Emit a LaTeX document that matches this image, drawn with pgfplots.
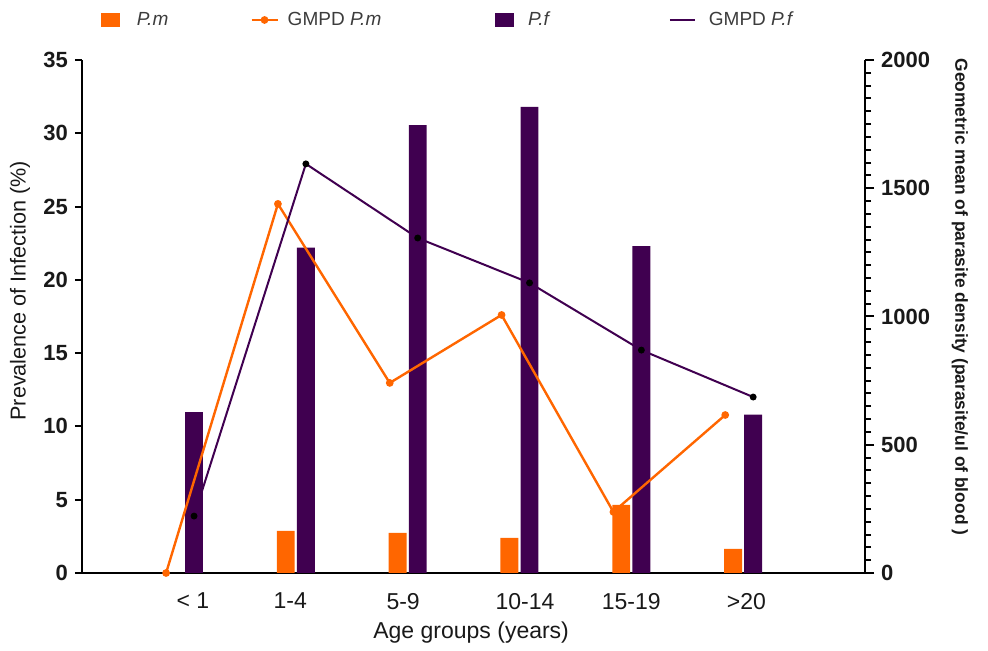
\documentclass[border=0pt]{standalone}
\usepackage{fontspec}
\setmainfont{Liberation Sans}
\usepackage{pgfplots}
\pgfplotsset{compat=1.18}
\definecolor{pmorange}{RGB}{255,102,0}
\definecolor{pfpurple}{RGB}{64,0,80}
\definecolor{txtdark}{RGB}{25,25,25}
\definecolor{leggray}{RGB}{60,60,60}
\begin{document}
\begin{tikzpicture}
\useasboundingbox (-41pt,-39pt) rectangle (453pt,286.5pt);
\begin{axis}[
  scale only axis, width=391.5pt, height=256.5pt,
  at={(0pt,0pt)}, anchor=south west,
  xmin=-0.912, xmax=6.09, ymin=0, ymax=35,
  axis x line*=bottom, axis y line*=left,
  axis line style={line width=1.2pt, black},
  x axis line style={-}, y axis line style={-},
  tick align=outside,
  ytick={0,5,...,35},
  major tick length=3.5pt,
  tick style={line width=1pt, black},
  xtick={0.08,0.95,1.96,3.05,4.0,5.03},
  xticklabels={{< 1},{1-4},{5-9},{10-14},{15-19},{>20}},
  xtick style={draw=none},
  /pgf/number format/assume math mode=true,
  yticklabel style={font=\bfseries\fontsize{11}{13}\selectfont, text=txtdark},
  xticklabel style={font=\fontsize{11.5}{13}\selectfont, text=txtdark, yshift=-3pt},
  xlabel={Age groups (years)},
  xlabel style={at={(axis description cs:0.497,-0.117)}, anchor=center, font=\fontsize{11.5}{13}\selectfont, text=txtdark},
  ylabel={Prevalence of Infection (\%)},
  ylabel style={at={(axis description cs:-0.079,0.55)}, anchor=center, font=\fontsize{10.8}{12}\selectfont, text=txtdark},
  clip=false,
]
\addplot[ybar, bar width=0.16, bar shift=0pt, fill=pmorange, draw=none]
  coordinates {(0.91,2.87) (1.91,2.73) (2.91,2.39) (3.91,4.64) (4.91,1.64)};
\addplot[ybar, bar width=0.16, bar shift=0pt, fill=pfpurple, draw=none]
  coordinates {(0.09,10.98) (1.09,22.2) (2.09,30.56) (3.09,31.8) (4.09,22.3) (5.09,10.8)};
\end{axis}
\begin{axis}[
  scale only axis, width=391.5pt, height=256.5pt,
  at={(0pt,0pt)}, anchor=south west,
  xmin=-0.912, xmax=6.09, ymin=0, ymax=2000,
  axis x line=none, axis y line*=right,
  axis line style={line width=1.2pt, black},
  y axis line style={-},
  tick align=outside,
  ytick={0,500,...,2000},
  minor ytick={0,50,...,2000},
  major tick length=4.5pt, minor tick length=3pt,
  tick style={line width=1pt, black},
  /pgf/number format/assume math mode=true,
  /pgf/number format/1000 sep={},
  yticklabel style={font=\bfseries\fontsize{11}{13}\selectfont, text=txtdark},
  ylabel={Geometric mean of parasite density (parasite/ul of blood )},
  ylabel style={at={(axis description cs:1.121,0.538)}, anchor=center, rotate=180, font=\bfseries\fontsize{8.7}{10}\selectfont, text=txtdark},
  clip=false,
  legend columns=4,
  legend style={draw=none, fill=none, at={(axis description cs:0.024,1.078)}, anchor=west,
    font=\fontsize{9.5}{11}\selectfont, text=leggray,
    inner xsep=0pt, inner ysep=0pt, nodes={inner sep=0pt, anchor=west},
    /tikz/column 1/.style={column sep=8.5pt},
    /tikz/column 2/.style={column sep=41pt},
    /tikz/column 3/.style={column sep=4.5pt},
    /tikz/column 4/.style={column sep=57pt},
    /tikz/column 5/.style={column sep=7pt},
    /tikz/column 6/.style={column sep=59pt},
    /tikz/column 7/.style={column sep=6.5pt}},
]
\addlegendimage{legend image code/.code={\fill[pmorange] (0pt,-3.3pt) rectangle (9pt,3.3pt);}}
\addlegendentry{\textit{P.m}}
\addplot[pmorange, line width=1.2pt, mark=*, mark size=1.3pt, mark options={fill=pmorange, draw=pmorange},
  legend image code/.code={\draw[pmorange, line width=1.2pt] (0pt,0pt) -- (13pt,0pt); \fill[pmorange] (6.5pt,0pt) circle (1.3pt);}]
  coordinates {(-0.16,0) (0.84,1439) (1.84,741) (2.84,1006) (3.84,238) (4.84,616)};
\addlegendentry{GMPD \textit{P.m}}
\addlegendimage{legend image code/.code={\fill[pfpurple] (0pt,-3.3pt) rectangle (9pt,3.3pt);}}
\addlegendentry{\textit{P.f}}
\addplot[pfpurple, line width=1pt, mark=*, mark size=1.2pt, mark options={fill=black, draw=black},
  legend image code/.code={\draw[pfpurple, line width=1.2pt] (0pt,0pt) -- (12.5pt,0pt);}]
  coordinates {(0.09,222) (1.09,1595) (2.09,1306) (3.09,1131) (4.09,869) (5.09,686)};
\addlegendentry{GMPD \textit{P.f}}
\end{axis}
\end{tikzpicture}
\end{document}
